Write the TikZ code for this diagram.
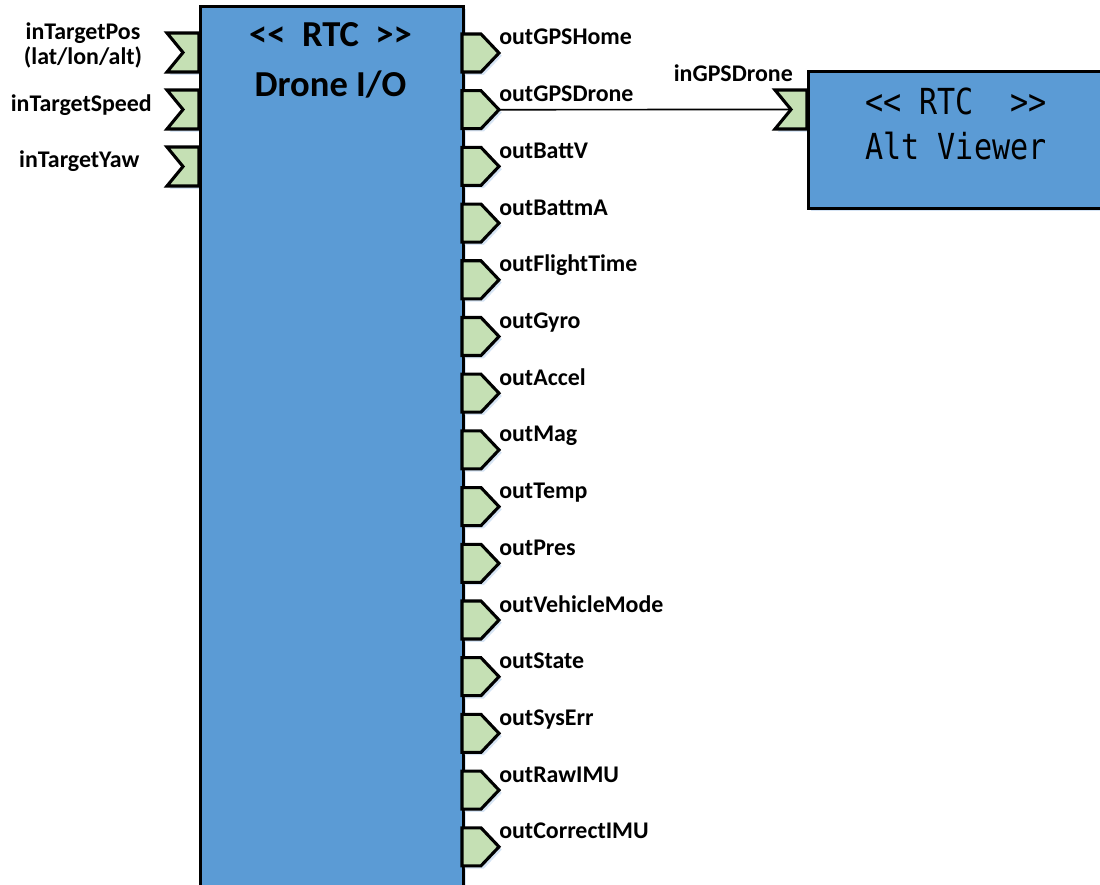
\documentclass[tikz,border=0pt]{standalone}
\usepackage{fontspec}
\setmainfont{Carlito}
\newfontfamily\altfont[FakeStretch=0.84]{DejaVu Sans Mono}
\usetikzlibrary{
  positioning,
  calc,
  shadows}
\definecolor{rtccolor}{RGB}{91,155,213}
\definecolor{portcolor}{RGB}{197,224,180}
\definecolor{shadowcolor}{RGB}{214,228,244}
\tikzset{
  %% portshadow : light blue shadow under ports and components
  portshadow/.style={
    drop shadow={shadow xshift=0.07cm, shadow yshift=-0.07cm,
      fill=shadowcolor, opacity=1}
  },
  %% port : green in/out port
  port/.style={
    fill=portcolor,
    draw=black,
    line width=2.2pt,
    portshadow
  },
  %% rtcbox : an RT-component
  rtcbox/.style={
    rectangle,
    fill=rtccolor,
    draw=black,
    line width=2.2pt,
    inner sep=0pt,
    anchor=north west,
    portshadow
  },
  %% portlabel : name of a port
  portlabel/.style={
    font=\bfseries\fontsize{17}{17.8}\selectfont,
    inner sep=0pt,
    align=center
  },
  %% rtctitle : title inside a component
  rtctitle/.style={
    font=\bfseries\fontsize{26}{30}\selectfont,
    inner sep=0pt,
    anchor=base
  },
  %% alttitle : title in the viewer component
  alttitle/.style={
    font=\altfont\fontsize{25.5}{28}\selectfont,
    inner sep=0pt,
    anchor=base
  },
  %% link : data port connection
  link/.style={black, line width=1.2pt}
}
\tikzset{
  inport/.pic = {
    \coordinate (-notch) at (-16, 19.5);
    \filldraw [port] (0, 0) -- (-32, 0) -- (-16, 19.5) -- (-32, 39)
      -- (0, 39) -- cycle;
  }
}
\tikzset{
  outport/.pic = {
    \coordinate (-tip) at (37, 19);
    \filldraw [port] (0, 0) -- (19, 0) -- (37, 19) -- (19, 38)
      -- (0, 38) -- cycle;
  }
}

\begin{document}
\begin{tikzpicture}
  [x=0.025cm,
  y=-0.025cm]

  \useasboundingbox (0, 0) rectangle (1100, 885);

  %% Inputs of Drone I/O
  \pic (inpos) at (199, 33) {inport};
  \pic (inspeed) at (199, 90) {inport};
  \pic (inyaw) at (199, 147) {inport};

  \node (inposlabel) [portlabel] at (83, 45) {%
    inTargetPos\\
    (lat/lon/alt)
  };
  \node (inspeedlabel) [portlabel, anchor=base] at (84, 112) {%
    inTargetSpeed
  };
  \node (inyawlabel) [portlabel, anchor=base] at (82, 168) {%
    inTargetYaw
  };

  %% Drone I/O component
  \node (drone) [rtcbox, minimum width=6.575cm, minimum height=22.5cm]
    at (199, 5) {};
  \node (dronertc) [rtctitle] at (330.5, 47) {%
    <{}<\hspace{0.45em}RTC\hspace{0.45em}>{}>
  };
  \node (dronename) [rtctitle] at (330.5, 97) {%
    Drone I/O
  };

  %% Outputs of Drone I/O
  \foreach \name [count=\i from 0] in {GPSHome, GPSDrone, BattV, BattmA,
    FlightTime, Gyro, Accel, Mag, Temp, Pres, VehicleMode, State, SysErr,
    RawIMU, CorrectIMU} {
    \pic (out\name) at (462, {34 + \i*56.7}) {outport};
    \node (out\name label) [portlabel, anchor=base west]
      at (499, {45 + \i*56.7}) {out\name};
  }

  %% Alt Viewer component
  \pic (altin) at (807, 90) {inport};
  \node (altinlabel) [portlabel, anchor=base] at (736, 82) {%
    inGPSDrone
  };
  \node (altviewer) [rtcbox, minimum width=7.35cm, minimum height=3.425cm]
    at (807, 70) {};
  \node (altrtc) [alttitle] at (956, 115) {%
    <{}<~RTC~~>{}>
  };
  \node (altname) [alttitle] at (956, 160) {%
    Alt~Viewer
  };

  %% Connection
  \draw [link] (outGPSDrone-tip) -- (altin-notch);

\end{tikzpicture}
\end{document}
